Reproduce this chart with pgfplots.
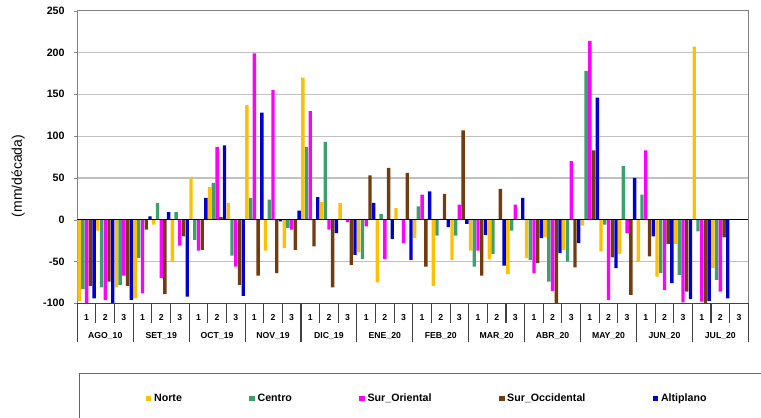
\documentclass[border=0pt]{standalone}
\usepackage{pgfplots}
\pgfplotsset{compat=1.18}
\usepackage{pgfplotstable}
\usepackage{fontspec}
\setmainfont{Liberation Sans}

\definecolor{norte}{RGB}{255,192,0}
\definecolor{centro}{RGB}{60,160,110}
\definecolor{surori}{RGB}{255,0,255}
\definecolor{surocc}{RGB}{115,60,15}
\definecolor{alti}{RGB}{0,0,204}
\definecolor{gridgray}{RGB}{192,192,192}

% anomalias por decada (mm/decada); -105 = barra cortada en -100
\pgfplotstableread{
x  norte centro surori surocc alti
1  -97   -83    -105   -79    -94
2  -13   -81    -96    -74    -105
3  -81   -78    -67    -79    -96
4  -94   -46    -88    -12    4
5  -6    20     -70    -89    9
6  -50   9      -31    -20    -92
7  50    -24    -37    -36    26
8  39    44     87     3      89
9  20    -43    -56    -78    -91
10 137   26     199    -67    128
11 -37   24     155    -64    -2
12 -34   -10    -12    -36    11
13 170   87     130    -32    27
14 21    93     -12    -81    -16
15 20    0      -3     -54    -42
16 -39   -47    -8     53     20
17 -75   7      -47    62     -23
18 14    0      -28    56     -48
19 -22   16     30     -56    34
20 -79   -19    1      31     -9
21 -48   -19    18     107    -5
22 -37   -56    -37    -67    -18
23 -47   -41    0      37     -55
24 -65   -13    18     0      26
25 -46   -48    -64    -52    -22
26 -21   -74    -85    -105   -40
27 -36   -50    70     -57    -28
28 -7    178    214    83     146
29 -38   -6     -96    -45    -58
30 -41   64     -16    -90    50
31 -50   30     83     -44    -20
32 -68   -64    -84    -29    -76
33 -29   -66    -99    -86    -95
34 207   -14    -98    -105   -97
35 -58   -72    -86    -21    -94
}\dekadas

\newcommand\mes[1]{2\\[5.9pt]#1}

\begin{document}
\begin{tikzpicture}
\path[use as bounding box] (0,0) rectangle (570.75pt,-313.5pt);

\begin{axis}[
  at={(57.98pt,-8.03pt)}, anchor=north west,
  scale only axis, width=503.25pt, height=219.45pt,
  xmin=0.5, xmax=36.5, ymin=-100, ymax=250,
  ybar=0.28pt, bar width=0.18,
  ytick={-100,-50,...,250},
  yticklabels={-100,-50,0,50,100,150,200,250},
  yticklabel style={font=\bfseries\fontsize{8}{9.6}\selectfont, xshift=-3.5pt},
  ymajorgrids, major grid style={gridgray, line width=0.9pt},
  tick align=outside, major tick length=2.5pt,
  xtick pos=bottom, ytick pos=left,
  xtick={1,...,36}, xtick style={draw=none},
  xticklabels={1,\mes{AGO\_10},3,1,\mes{SET\_19},3,1,\mes{OCT\_19},3,
    1,\mes{NOV\_19},3,1,\mes{DIC\_19},3,1,\mes{ENE\_20},3,
    1,\mes{FEB\_20},3,1,\mes{MAR\_20},3,1,\mes{ABR\_20},3,
    1,\mes{MAY\_20},3,1,\mes{JUN\_20},3,1,\mes{JUL\_20},3},
  xticklabel style={font=\bfseries\fontsize{6.5}{7.8}\selectfont, align=center, yshift=-2.4pt},
  ytick style={gridgray!70!black},
  axis line style={black!50},
  ylabel={(mm/década)},
  ylabel style={at={(axis description cs:-0.088,0.435)}, anchor=center,
    font=\fontsize{10.5}{12.6}\selectfont},
  legend columns=5,
  legend cell align=left,
  legend image code/.code={\fill[#1] (0pt,-2.1pt) rectangle (4.2pt,2.1pt);},
  legend style={at={(axis description cs:0.003,-0.239)}, anchor=north west,
    draw=black!60, line width=0.8pt,
    font=\bfseries\fontsize{8}{9.6}\selectfont,
    inner xsep=49.5pt, inner ysep=13pt,
    /tikz/every even column/.append style={column sep=48.5pt}},
]
\addplot[fill=norte, draw=none] table[x=x, y=norte] {\dekadas};
\addplot[fill=centro, draw=none] table[x=x, y=centro] {\dekadas};
\addplot[fill=surori, draw=none] table[x=x, y=surori] {\dekadas};
\addplot[fill=surocc, draw=none] table[x=x, y=surocc] {\dekadas};
\addplot[fill=alti, draw=none] table[x=x, y=alti] {\dekadas};
\addplot[sharp plot, black, line width=0.7pt, forget plot] coordinates {(0.5,0) (36.5,0)};
\legend{Norte,Centro,Sur\_Oriental,Sur\_Occidental,Altiplano}
\end{axis}

% separadores de decadas y meses
\begin{axis}[
  at={(57.98pt,-8.03pt)}, anchor=north west,
  scale only axis, width=503.25pt, height=219.45pt,
  xmin=0.5, xmax=36.5, ymin=0, ymax=1,
  axis y line=none, axis x line*=bottom, ytick=\empty,
  xtick={0.5,3.5,...,36.5}, xticklabels={},
  minor xtick={1.5,2.5,4.5,5.5,7.5,8.5,10.5,11.5,13.5,14.5,16.5,17.5,
    19.5,20.5,22.5,23.5,25.5,26.5,28.5,29.5,31.5,32.5,34.5,35.5},
  tick align=outside, major tick length=29.25pt, minor tick length=14.6pt,
  x axis line style={black!75, line width=0.8pt},
  tick style={black!75, line width=0.8pt},
]
\end{axis}
\end{tikzpicture}
\end{document}
